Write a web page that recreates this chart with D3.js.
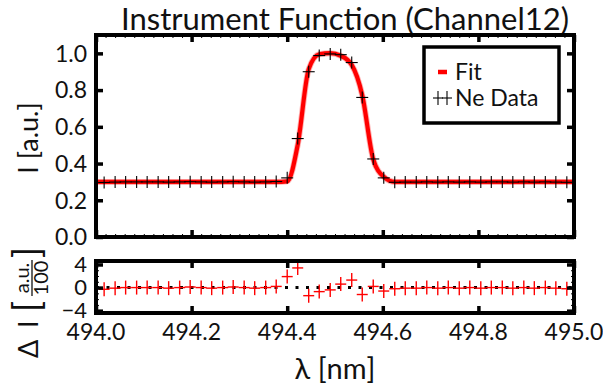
<!DOCTYPE html>
<html>
<head>
<meta charset="utf-8">
<script src="https://cdn.jsdelivr.net/npm/d3@7"></script>
<style>
  body { margin: 0; background: #fff; }
  text { font-family: Lato, "Open Sans", sans-serif; fill: #111; }
</style>
</head>
<body>
<svg id="chart" width="603" height="390"></svg>
<script>
// wavelength of each Ne data point [nm]
var lambda = [494.017, 494.040, 494.062, 494.085, 494.107, 494.130, 494.152, 494.175, 494.197, 494.220,
              494.242, 494.265, 494.287, 494.310, 494.332, 494.355, 494.377, 494.400, 494.422, 494.445,
              494.467, 494.490, 494.512, 494.535, 494.557, 494.580, 494.602, 494.625, 494.647, 494.670,
              494.692, 494.715, 494.737, 494.760, 494.782, 494.805, 494.827, 494.850, 494.872, 494.895,
              494.917, 494.940, 494.962, 494.985];
// measured intensity [a.u.]
var neData = [0.297, 0.299, 0.300, 0.300, 0.300, 0.300, 0.299, 0.300, 0.301, 0.300,
              0.299, 0.300, 0.301, 0.300, 0.299, 0.300, 0.302, 0.322, 0.536, 0.900,
              0.988, 0.997, 0.993, 0.950, 0.760, 0.425, 0.322, 0.298, 0.299, 0.299,
              0.300, 0.299, 0.300, 0.299, 0.300, 0.299, 0.300, 0.300, 0.299, 0.300,
              0.299, 0.300, 0.299, 0.298];
// fitted instrument function
var fitVals = [0.300, 0.300, 0.300, 0.300, 0.300, 0.300, 0.300, 0.300, 0.300, 0.300,
               0.300, 0.300, 0.300, 0.300, 0.300, 0.300, 0.300, 0.303, 0.502, 0.914,
               0.995, 1.001, 0.987, 0.937, 0.772, 0.423, 0.328, 0.300, 0.300, 0.300,
               0.300, 0.300, 0.300, 0.300, 0.300, 0.300, 0.300, 0.300, 0.300, 0.300,
               0.300, 0.300, 0.300, 0.300];
// residuals (a.u./100)
var resid = [-0.3, -0.1, 0.0, 0.0, 0.0, 0.0, -0.1, 0.0, 0.1, 0.0,
             -0.1, 0.0, 0.1, 0.0, -0.1, 0.0, 0.2, 1.9, 3.4, -1.4,
             -0.7, -0.4, 0.6, 1.3, -1.2, 0.2, -0.6, -0.2, -0.1, -0.1,
             0.0, -0.1, 0.0, -0.1, 0.0, -0.1, 0.0, 0.0, -0.1, 0.0,
             -0.1, 0.0, -0.1, -0.2];

var xTicks = [494.0, 494.2, 494.4, 494.6, 494.8, 495.0];
var yTicks = [0.0, 0.2, 0.4, 0.6, 0.8, 1.0];
var rTicks = [-4, 0, 4];

var svg = d3.select("#chart");

var x = d3.scaleLinear().domain([494.0, 495.0]).range([96, 574]);
var y = d3.scaleLinear().domain([0, 1.1]).range([237, 35]);
var yr = d3.scaleLinear().domain([-4.4, 4.6]).range([313, 261]);

// title
svg.append("text")
  .attr("x", 345).attr("y", 30)
  .attr("text-anchor", "middle")
  .style("font-size", "31px")
  .text("Instrument Function (Channel12)");

// inward ticks on all four sides of a panel
function boxTicks(g, yScale, xt, xMinor, yt, yMinor) {
  var y0 = yScale.range()[0], y1 = yScale.range()[1];
  var x0 = x.range()[0], x1 = x.range()[1];
  function add(axis, tr, vals, size, major) {
    g.append("g").attr("class", major ? "major" : "minor").attr("transform", tr)
      .call(axis.tickValues(vals).tickSize(-size).tickFormat(""))
      .call(s => s.select(".domain").remove());
  }
  add(d3.axisBottom(x), "translate(0," + y0 + ")", xMinor, 3, false);
  add(d3.axisTop(x), "translate(0," + y1 + ")", xMinor, 3, false);
  add(d3.axisBottom(x), "translate(0," + y0 + ")", xt, 7, true);
  add(d3.axisTop(x), "translate(0," + y1 + ")", xt, 7, true);
  if (yMinor) {
    add(d3.axisLeft(yScale), "translate(" + x0 + ",0)", yMinor, 3, false);
    add(d3.axisRight(yScale), "translate(" + x1 + ",0)", yMinor, 3, false);
  }
  add(d3.axisLeft(yScale), "translate(" + x0 + ",0)", yt, 7, true);
  add(d3.axisRight(yScale), "translate(" + x1 + ",0)", yt, 7, true);
  g.selectAll(".tick line").attr("stroke", "#000").attr("stroke-width", 1);
  g.selectAll(".major .tick line").attr("stroke-width", 3.5);
}

var xMinor = d3.range(0, 51).map(i => 494.0 + i * 0.02);

// ---------- main panel ----------
var main = svg.append("g");

var fitPts = [fitVals[0]].concat(fitVals).concat([fitVals[fitVals.length - 1]]);
var fitX = [494.0].concat(lambda).concat([495.0]);
var fitPath = d3.line()
  .x((d, i) => x(fitX[i]))
  .y(d => y(d))
  .curve(d3.curveMonotoneX)(fitPts);
main.append("path").attr("d", fitPath).attr("fill", "none")
  .attr("stroke", "#ff0000").attr("stroke-opacity", 0.3).attr("stroke-width", 6);
main.append("path").attr("d", fitPath).attr("fill", "none")
  .attr("stroke", "#ff0000").attr("stroke-width", 4.2);

// data crosses
var cross = main.append("g").selectAll("g")
  .data(neData).enter().append("g")
  .attr("transform", (d, i) => "translate(" + x(lambda[i]) + "," + y(d) + ")");
cross.append("line").attr("x1", -6).attr("x2", 6).attr("stroke", "#000").attr("stroke-width", 1.1);
cross.append("line").attr("y1", -6).attr("y2", 6).attr("stroke", "#000").attr("stroke-width", 1.1);

boxTicks(main, y, xTicks, xMinor, yTicks, null);

main.append("rect")
  .attr("x", x(494.0)).attr("y", y(1.1))
  .attr("width", x(495.0) - x(494.0)).attr("height", y(0) - y(1.1))
  .attr("fill", "none").attr("stroke", "#000").attr("stroke-width", 4);

main.selectAll(".ylab").data(yTicks).enter().append("text")
  .attr("x", 87).attr("y", d => y(d)).attr("dy", "0.36em")
  .attr("text-anchor", "end").style("font-size", "23px")
  .text(d => d3.format(".1f")(d));

main.append("text")
  .attr("transform", "translate(38,138) rotate(-90)")
  .attr("text-anchor", "middle").style("font-size", "27px")
  .text("I [a.u.]");

// legend
var leg = main.append("g");
leg.append("rect").attr("x", 424).attr("y", 47).attr("width", 135).attr("height", 76)
  .attr("fill", "#fff").attr("stroke", "#000").attr("stroke-width", 3.5);
leg.append("line").attr("x1", 438).attr("x2", 447).attr("y1", 72).attr("y2", 72)
  .attr("stroke", "#ff0000").attr("stroke-width", 4.5);
leg.append("text").attr("x", 455).attr("y", 80).style("font-size", "23px").text("Fit");
[438, 447].forEach(function (cx) {
  leg.append("line").attr("x1", cx - 5).attr("x2", cx + 5).attr("y1", 98).attr("y2", 98)
    .attr("stroke", "#000").attr("stroke-width", 1.1);
  leg.append("line").attr("x1", cx).attr("x2", cx).attr("y1", 91).attr("y2", 105)
    .attr("stroke", "#000").attr("stroke-width", 1.1);
});
leg.append("text").attr("x", 455).attr("y", 106).style("font-size", "23px").text("Ne Data");

// ---------- residual panel ----------
var res = svg.append("g");

res.append("line")
  .attr("x1", x(494.0)).attr("x2", x(495.0)).attr("y1", yr(0)).attr("y2", yr(0))
  .attr("stroke", "#000").attr("stroke-width", 3).attr("stroke-dasharray", "3,7.5");

var rc = res.append("g").selectAll("g")
  .data(resid).enter().append("g")
  .attr("transform", (d, i) => "translate(" + x(lambda[i]) + "," + yr(d) + ")");
rc.append("line").attr("x1", -5.5).attr("x2", 5.5).attr("stroke", "#ff0000").attr("stroke-width", 1.4);
rc.append("line").attr("y1", -7).attr("y2", 7).attr("stroke", "#ff0000").attr("stroke-width", 1.4);

boxTicks(res, yr, xTicks, [], rTicks, d3.range(-4, 5));

res.append("rect")
  .attr("x", x(494.0)).attr("y", yr(4.6))
  .attr("width", x(495.0) - x(494.0)).attr("height", yr(-4.4) - yr(4.6))
  .attr("fill", "none").attr("stroke", "#000").attr("stroke-width", 4);

res.selectAll(".rlab").data(rTicks).enter().append("text")
  .attr("x", 87).attr("y", d => yr(d)).attr("dy", "0.34em")
  .attr("text-anchor", "end").style("font-size", "22px")
  .text(d => d < 0 ? "\u2212" + Math.abs(d) : d);

res.selectAll(".xlab").data(xTicks).enter().append("text")
  .attr("x", d => x(d)).attr("y", 340)
  .attr("text-anchor", "middle").style("font-size", "23px")
  .text(d => d3.format(".1f")(d));

svg.append("text")
  .attr("x", 335).attr("y", 379)
  .attr("text-anchor", "middle").style("font-size", "29px")
  .text("\u03bb [nm]");

// residual y label: Δ I [a.u./100]
var rl = svg.append("g").attr("transform", "translate(38,358) rotate(-90)");
rl.append("text").attr("x", 0).attr("y", 0).style("font-size", "27px").text("\u0394");
rl.append("text").attr("x", 30).attr("y", 0).style("font-size", "27px").text("I");
rl.append("text").attr("x", 46).attr("y", 2).style("font-size", "36px").text("[");
rl.append("text").attr("x", 80).attr("y", -9).attr("text-anchor", "middle")
  .style("font-size", "20px").text("a.u.");
rl.append("line").attr("x1", 62).attr("x2", 98).attr("y1", -6).attr("y2", -6)
  .attr("stroke", "#111").attr("stroke-width", 1.3);
rl.append("text").attr("x", 80).attr("y", 10).attr("text-anchor", "middle")
  .style("font-size", "20px").text("100");
rl.append("text").attr("x", 100).attr("y", 2).style("font-size", "36px").text("]");
</script>
</body>
</html>
